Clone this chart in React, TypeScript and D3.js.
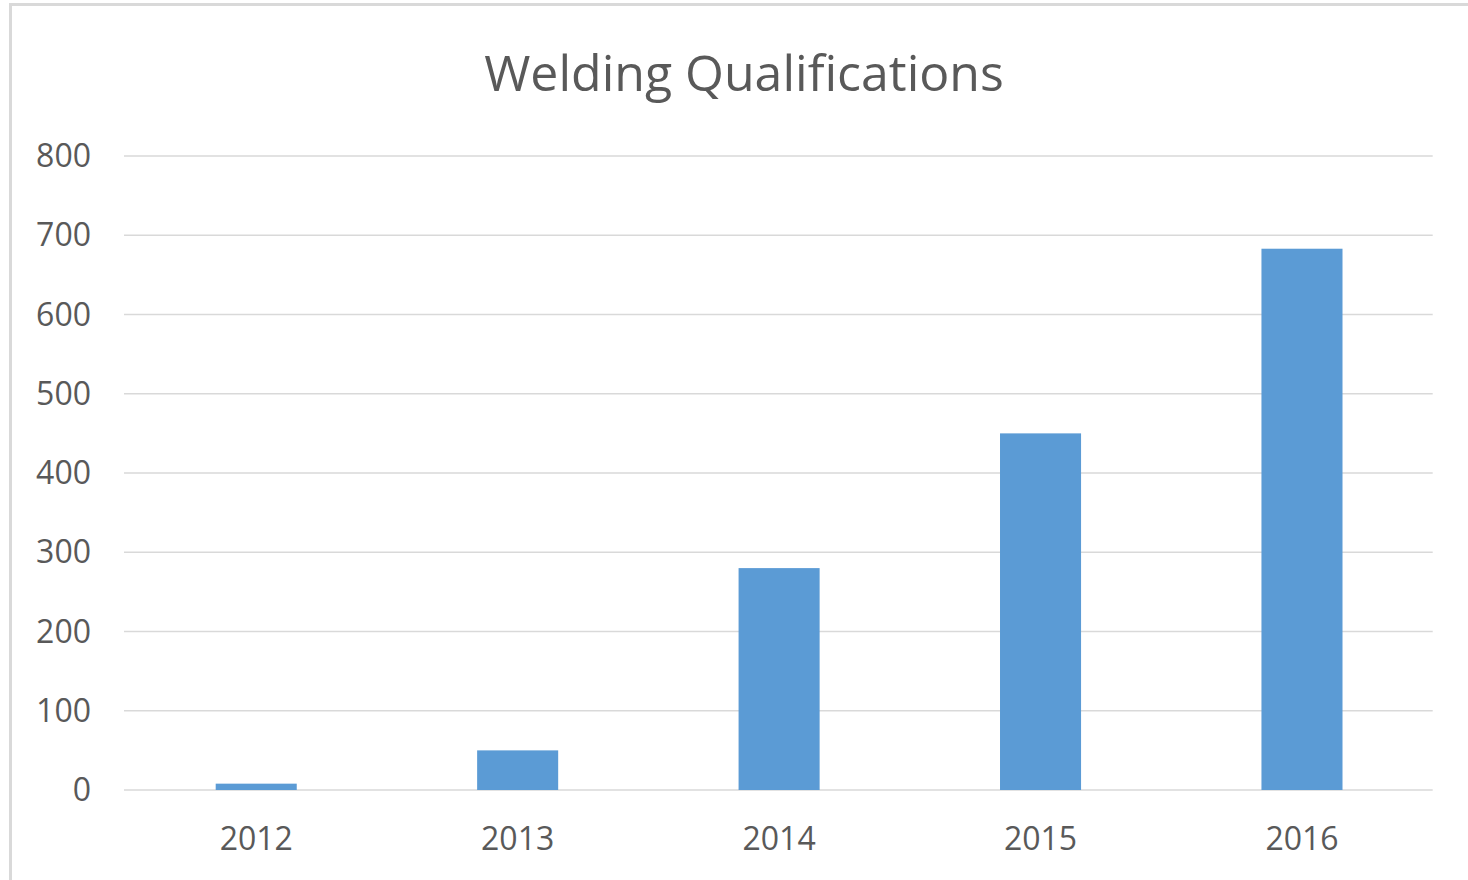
import React from "react";
import * as d3 from "d3";

const categories = ["2012", "2013", "2014", "2015", "2016"];
const values = [8, 50, 280, 450, 683];
const yTicks = [0, 100, 200, 300, 400, 500, 600, 700, 800];
const title = "Welding Qualifications";

export default function App() {
  const W = 1468, H = 880;
  const left = 124, right = 1432.7, top = 156, bottom = 790;
  const x = d3.scaleBand<string>().domain(categories).range([left + 1.5, right]).paddingInner(0.69).paddingOuter(0.345);
  const y = d3.scaleLinear().domain([0, 800]).range([bottom, top]);
  const font = "'Open Sans', sans-serif";
  return (
    <svg width={W} height={H} style={{ position: "absolute", left: 0, top: 0, background: "#fff" }}>
      <rect x={0} y={0} width={W} height={H} fill="#fff" />
      <line x1={10.5} y1={4.5} x2={10.5} y2={H} stroke="#d9d9d9" strokeWidth={3} />
      <line x1={9} y1={4.5} x2={W} y2={4.5} stroke="#d9d9d9" strokeWidth={3} />
      <text x={744} y={91} textAnchor="middle" fontFamily={font} fontSize={50} fill="#595959">{title}</text>
      {yTicks.map((t) => (
        <g key={t}>
          <line x1={left} x2={right} y1={y(t)} y2={y(t)} stroke="#d9d9d9" strokeWidth={1.5} />
          <text x={91} y={y(t)} dy="0.35em" textAnchor="end" fontFamily={font} fontSize={32} fill="#595959">{t}</text>
        </g>
      ))}
      {categories.map((c, i) => (
        <g key={c}>
          <rect x={x(c)} y={y(values[i])} width={x.bandwidth()} height={y(0) - y(values[i])} fill="#5b9bd5" />
          <text x={(x(c) as number) + x.bandwidth() / 2} y={850} textAnchor="middle" fontFamily={font} fontSize={32} fill="#595959">{c}</text>
        </g>
      ))}
    </svg>
  );
}
